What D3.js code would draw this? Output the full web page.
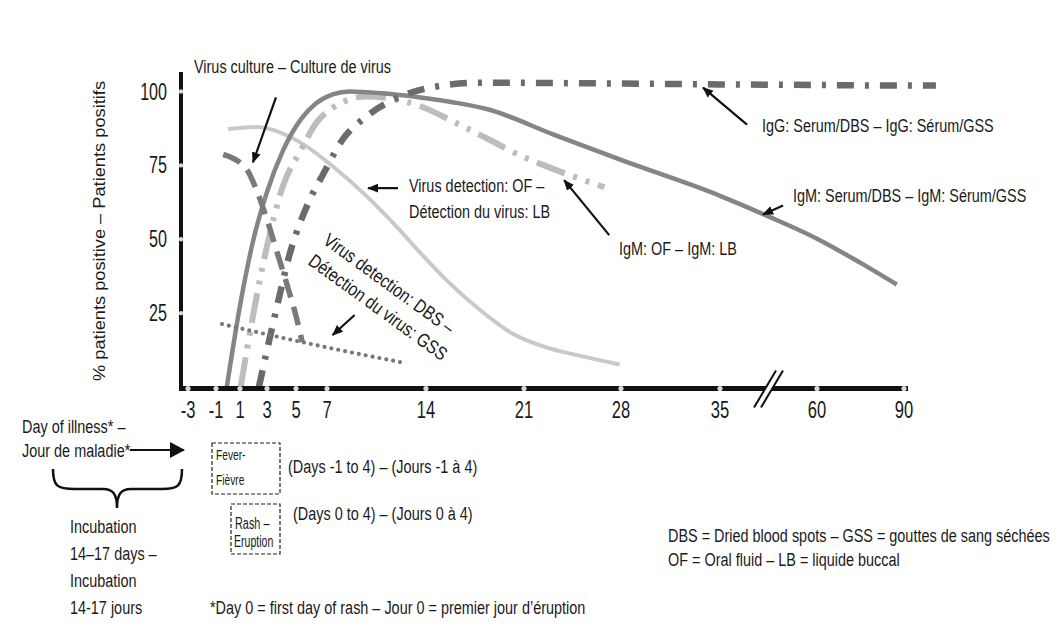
<!DOCTYPE html>
<html>
<head>
<meta charset="utf-8">
<script src="https://cdn.jsdelivr.net/npm/d3@7"></script>
<style>
  html, body { margin: 0; padding: 0; background: #fff; }
  svg { display: block; }
  text { font-family: "Liberation Sans", Arial, sans-serif; fill: #1a1a1a; }
</style>
</head>
<body>
<svg id="chart" width="1057" height="634"></svg>
<script>
// ---- data: % of patients positive by day of illness ----
const xTicks = [-3, -1, 1, 3, 5, 7, 14, 21, 28, 35, 60, 90];
const yTicks = [25, 50, 75, 100];

// [day, % positive]
const virusCulture = [[-0.4, 78.7], [1.5, 73.6], [2.2, 66.9], [3, 56.7], [3.7, 45.5], [4.4, 34.3], [5.05, 23], [5.4, 15.2]];
const virusOF = [[0, 87.3], [2.2, 88], [5.3, 82.7], [7.4, 74.7], [9.8, 64.6], [12.2, 52.8], [13.2, 47.5], [15.5, 36], [17.9, 25.9], [20.2, 18], [22.6, 13.4], [25, 10.6], [27.9, 7.6]];
const virusDBS = [[-0.5, 21.3], [3, 17.8], [7, 13.4], [12.2, 8.4]];
const igmSerum = [[-0.1, 0], [1, 27.5], [2, 50], [3, 66], [4.1, 80], [5.3, 90.5], [6.3, 96], [7.4, 99], [8.6, 100], [10.9, 99.4], [13.6, 98], [16, 96.3], [18.4, 94], [23.1, 85.5], [27.9, 77], [35, 64.7], [47, 58], [60, 50.2], [75, 42], [87.5, 34.7]];
const igmOF = [[1.05, 0], [2, 25], [3, 47.7], [4.1, 68], [5.3, 80], [6.3, 89.3], [7.4, 94.5], [9.8, 98.3], [12.2, 97], [13.6, 95], [16, 89.7], [18.4, 84], [20.7, 78.4], [23.1, 73.8], [26.8, 67.6]];
const igG = [[2.4, 0], [3.7, 27.5], [4.6, 45.6], [5.7, 61.2], [6.8, 72.5], [8.1, 83.7], [9.8, 91.6], [12.2, 98.3], [14.5, 101.5], [18, 103], [25, 102.8], [35, 102.4], [60, 102.2], [90, 102], [101, 102]];

// series labels: pointer tip sits on the curve at [day, value]
const seriesLabels = [
  { lines: ["Virus culture \u2013 Culture de virus"], tip: [1.96, 76], tail: [23, -65], at: [194, 73] },
  { lines: ["Virus detection: OF \u2013", "D\u00e9tection du virus: LB"], tip: [9.9, 67.3], tail: [30, 0], at: [409, 192] },
  { lines: ["IgM: OF \u2013 IgM: LB"], tip: [23.9, 70], tail: [45, 55], at: [619, 255] },
  { lines: ["IgG: Serum/DBS \u2013 IgG: S\u00e9rum/GSS"], tip: [33.8, 101.3], tail: [44, 37], at: [762, 132] },
  { lines: ["IgM: Serum/DBS \u2013 IgM: S\u00e9rum/GSS"], tip: [46.1, 58.4], tail: [20, -9], at: [793, 202] },
  { lines: ["Virus detection: DBS \u2013", "D\u00e9tection du virus: GSS"], tip: [7.4, 17.6], tail: [22, -20], at: [322, 243], angle: 36, squeeze: 0.82 }
];

const yTitle = "% patients positive \u2013 Patients positifs";

// ---- layout ----
const svg = d3.select("#chart");
const x = d3.scaleLinear()
  .domain(xTicks)
  .range([188, 216, 240, 267, 296, 327, 426, 524, 621, 720, 817, 904]);
const y = d3.scaleLinear().domain([0, 100]).range([387, 91.5]);
const axisX = 181, axisTop = 72, axisRight = 908;

// text set in a condensed face: horizontal squeeze about its anchor point
function ctext(parent, str, tx, ty, size, f, anchor) {
  return parent.append("text")
    .attr("transform", `translate(${tx},${ty}) scale(${f},1)`)
    .attr("font-size", size)
    .attr("text-anchor", anchor || "start")
    .text(str);
}

const defs = svg.append("defs");
defs.append("marker").attr("id", "head")
  .attr("markerUnits", "userSpaceOnUse").attr("orient", "auto")
  .attr("markerWidth", 12).attr("markerHeight", 10)
  .attr("refX", 10).attr("refY", 5)
  .append("path").attr("d", "M0,0.5 L11,5 L0,9.5 Z").attr("fill", "#111");
defs.append("marker").attr("id", "bighead")
  .attr("markerUnits", "userSpaceOnUse").attr("orient", "auto")
  .attr("markerWidth", 16).attr("markerHeight", 16)
  .attr("refX", 14).attr("refY", 8)
  .append("path").attr("d", "M0,0 L15,8 L0,16 Z").attr("fill", "#111");

// ---- curves ----
const line = d3.line().x(d => x(d[0])).y(d => y(d[1])).curve(d3.curveMonotoneX);

const styles = [
  { data: virusOF, color: "#c9c9c9", width: 4, dash: null },
  { data: igmOF, color: "#bdbdbd", width: 6, dash: "30 9 4 9 4 9" },
  { data: igmSerum, color: "#858585", width: 4.5, dash: null },
  { data: igG, color: "#6b6b6b", width: 6.5, dash: "17 11 4 11" },
  { data: virusCulture, color: "#7a7a7a", width: 5.5, dash: "19 10" },
  { data: virusDBS, color: "#777777", width: 4.2, dash: "0 7", cap: "round" }
];

svg.append("g").selectAll("path").data(styles).join("path")
  .attr("d", d => line(d.data))
  .attr("fill", "none")
  .attr("stroke", d => d.color)
  .attr("stroke-width", d => d.width)
  .attr("stroke-dasharray", d => d.dash)
  .attr("stroke-linecap", d => d.cap || "butt");

// ---- axes ----
const axes = svg.append("g");
axes.append("line").attr("x1", axisX).attr("x2", axisX).attr("y1", axisTop).attr("y2", y(0) + 3)
  .attr("stroke", "#111").attr("stroke-width", 4);
axes.append("line").attr("x1", axisX - 2).attr("x2", axisRight).attr("y1", y(0) + 1.5).attr("y2", y(0) + 1.5)
  .attr("stroke", "#111").attr("stroke-width", 5);

axes.selectAll(".ydot").data(yTicks).join("circle")
  .attr("cx", axisX).attr("cy", d => y(d)).attr("r", 2.2).attr("fill", "#d8d8d8");
axes.selectAll(".xdot").data(xTicks).join("circle")
  .attr("cx", d => x(d)).attr("cy", y(0) + 1.5).attr("r", 2.6).attr("fill", "#d8d8d8");

yTicks.forEach(v => ctext(axes, v, 167, y(v) + 8, 23, 0.7, "end"));
xTicks.forEach(v => ctext(axes, v, x(v), 418, 23, 0.72, "middle"));

// axis break between 35 and 60
const bx = (x(35) + x(60)) / 2 + 0.5, by = y(0) + 1.5;
axes.append("path")
  .attr("d", `M${bx - 15},${by + 19} L${bx + 7},${by - 18} L${bx + 14},${by - 18} L${bx - 8},${by + 19} Z`)
  .attr("fill", "#fff");
[[-15, 7], [-8, 14]].forEach(([a, b]) => {
  axes.append("line")
    .attr("x1", bx + a).attr("y1", by + 19).attr("x2", bx + b).attr("y2", by - 18)
    .attr("stroke", "#111").attr("stroke-width", 2);
});

// y title
svg.append("text")
  .attr("transform", "translate(105,231) rotate(-90)")
  .attr("text-anchor", "middle").attr("font-size", 17)
  .attr("textLength", 300).attr("lengthAdjust", "spacingAndGlyphs")
  .text(yTitle);

// ---- series labels and pointers ----
const notes = svg.append("g");
seriesLabels.forEach(s => {
  const hx = x(s.tip[0]), hy = y(s.tip[1]);
  notes.append("line")
    .attr("x1", hx + s.tail[0]).attr("y1", hy + s.tail[1]).attr("x2", hx).attr("y2", hy)
    .attr("stroke", "#111").attr("stroke-width", 2.2).attr("marker-end", "url(#head)");
  const g = notes.append("g")
    .attr("transform", `translate(${s.at[0]},${s.at[1]})` + (s.angle ? ` rotate(${s.angle})` : ""));
  s.lines.forEach((t, i) => ctext(g, t, 0, i * 25.5, 19, s.squeeze || 0.76));
});

// ---- lower panel: day-of-illness key ----
const key = svg.append("g");
ctext(key, "Day of illness* \u2013", 22, 433, 19, 0.76);
ctext(key, "Jour de maladie*", 22, 457, 19, 0.76);
key.append("line").attr("x1", 130).attr("x2", 184).attr("y1", 450).attr("y2", 450)
  .attr("stroke", "#111").attr("stroke-width", 2).attr("marker-end", "url(#bighead)");
key.append("path")
  .attr("d", "M53,469 C53,486 57,489 75,489 L103,489 C113,489 117,494 117,508 C117,494 121,489 131,489 L162,489 C178,489 182,486 182,469")
  .attr("fill", "none").attr("stroke", "#111").attr("stroke-width", 2.5);
["Incubation", "14\u201317 days \u2013", "Incubation", "14-17 jours"].forEach((t, i) =>
  ctext(key, t, 70, 533 + i * 27, 19, 0.76));

key.append("rect").attr("x", 212).attr("y", 443).attr("width", 68).attr("height", 51)
  .attr("fill", "none").attr("stroke", "#222").attr("stroke-width", 1.2).attr("stroke-dasharray", "4 2");
key.append("rect").attr("x", 231).attr("y", 504).attr("width", 49).attr("height", 50)
  .attr("fill", "none").attr("stroke", "#222").attr("stroke-width", 1.2).attr("stroke-dasharray", "4 2");
ctext(key, "Fever-", 216, 460, 15, 0.68);
ctext(key, "Fi\u00e8vre", 216, 485, 15, 0.68);
ctext(key, "Rash \u2013", 235, 529, 16, 0.68);
ctext(key, "Eruption", 234, 547, 16, 0.66);
ctext(key, "(Days -1 to 4) \u2013 (Jours -1 \u00e0 4)", 288, 473, 19, 0.76);
ctext(key, "(Days 0 to 4) \u2013 (Jours 0 \u00e0 4)", 293, 520, 19, 0.76);
ctext(key, "*Day 0 = first day of rash \u2013 Jour 0 = premier jour d\u2019\u00e9ruption", 210, 614, 19, 0.76);
ctext(key, "DBS = Dried blood spots \u2013 GSS = gouttes de sang s\u00e9ch\u00e9es", 668, 542, 19, 0.76);
ctext(key, "OF = Oral fluid \u2013 LB = liquide buccal", 668, 566, 19, 0.76);
</script>
</body>
</html>
